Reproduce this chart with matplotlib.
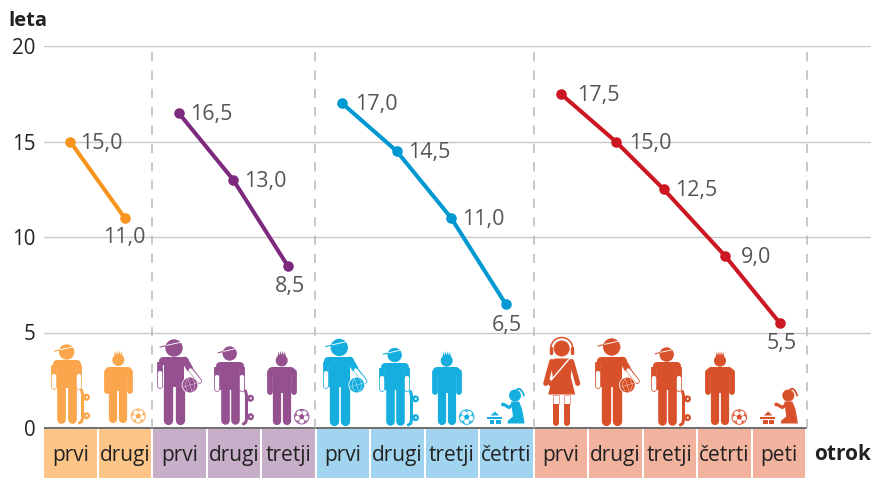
import numpy as np
import matplotlib
matplotlib.use("Agg")
import matplotlib.pyplot as plt
from matplotlib.patches import Circle, Polygon, Arc, Rectangle

plt.rcParams['font.family'] = ['Open Sans', 'DejaVu Sans']

# ---------- data ----------
categories = ["prvi", "drugi", "prvi", "drugi", "tretji", "prvi", "drugi", "tretji",
              "četrti", "prvi", "drugi", "tretji", "četrti", "peti"]
family1 = [15.0, 11.0]
family2 = [16.5, 13.0, 8.5]
family3 = [17.0, 14.5, 11.0, 6.5]
family4 = [17.5, 15.0, 12.5, 9.0, 5.5]
yticks = [0, 5, 10, 15, 20]

x1 = [-0.02, 0.98]
x2 = [1.97, 2.97, 3.97]
x3 = [4.97, 5.97, 6.97, 7.97]
x4 = [8.98, 9.99, 10.87, 12, 13]

W, H = 871, 478
DPI = 100
fig = plt.figure(figsize=(W / DPI, H / DPI), dpi=DPI, facecolor="white")

SLOT = 54.5
L = 44
Y0, Y20 = 428.0, 46.0
UNIT = (Y0 - Y20) / 20
ax = fig.add_axes([L / W, 0, (W - L) / W, (H - Y20) / H])
ax.set_xlim(-0.5, (W - L) / SLOT - 0.5)
ax.set_ylim(-(H - Y0) / UNIT, 20)
ax.patch.set_alpha(0)
for s in ax.spines.values():
    s.set_visible(False)
ax.tick_params(length=0)
ax.set_xticks([])
ax.set_yticks(yticks)
ax.set_yticklabels([str(v) for v in yticks], fontsize=14.8, color="#222222", va="center_baseline")
ax.tick_params(axis="y", pad=6)

GRID = "#C9C9C9"
for v in yticks[1:]:
    ax.axhline(v, color=GRID, lw=1.0, zorder=1)
ax.plot([-0.5, 13.5], [0, 0], color="#555555", lw=1.2, zorder=2, solid_capstyle="butt")
for b in [1.48, 4.48, 8.49, 13.5]:
    ax.plot([b, b], [0, 20], color="#BDBDBD", lw=1.2, dashes=(5.5, 5.5), zorder=2)

groups = [
    (x1, family1, "#F7941D", "#FDC588", [(10, 1.5), (0, 20)]),
    (x2, family2, "#7D2A7E", "#C8AFC9", [(11, 1.5), (11, 1.5), (2, 20.5)]),
    (x3, family3, "#0098D0", "#A1D4EE", [(13, 1.5), (11, 1.5), (11, 1.5), (1, 22)]),
    (x4, family4, "#CC1722", "#F1B29E", [(16, 1.5), (13, 1.5), (11, 1.5), (16, 1.5), (2, 21)]),
]
slot_i = 0
for xs, ys, col, box, offs in groups:
    ax.plot(xs, ys, color=col, lw=2.9, marker="o", ms=7.6, mew=0, zorder=4,
            solid_capstyle="round")
    n = len(xs)
    for k, (x, y, (dx, dy)) in enumerate(zip(xs, ys, offs)):
        lab = f"{y:.1f}".replace(".", ",")
        ha = "center" if k == n - 1 else "left"
        ax.annotate(lab, (x, y), xytext=(dx * 0.72, -dy * 0.72), textcoords="offset points",
                    ha=ha, va="center", fontsize=15.5, color="#555555", zorder=5)
    for _ in xs:
        ax.bar(slot_i - 0.5, (478 - 429) / UNIT, bottom=-(478 - Y0) / UNIT,
               width=0.97, align="edge", color=box, zorder=2, lw=0)
        ax.text(slot_i - 0.015, -(455.5 - Y0) / UNIT, categories[slot_i], ha="center", va="center",
                fontsize=15, color="#222222", zorder=3)
        slot_i += 1

# ---------- pictograms, in figure pixels ----------
ic = fig.add_axes([0, 0, 1, 1])
ic.set_xlim(0, W)
ic.set_ylim(H, 0)
ic.axis("off")
ic.patch.set_alpha(0)
PX = 72 / DPI


def line(xs, ys, w, c, cap="round", z=6):
    ic.plot(xs, ys, color=c, lw=w * PX, solid_capstyle=cap, solid_joinstyle="round", zorder=z)


def disc(x, y, r, c, z=6, ec=None, lw=0):
    ic.add_patch(Circle((x, y), r, fc=c, ec=ec if ec else "none", lw=lw * PX, zorder=z))


def poly(pts, c, z=6):
    ic.add_patch(Polygon(pts, closed=True, fc=c, ec="none", zorder=z))


def cap(cx, hy, r, c):
    r = r + 0.7
    disc(cx, hy, r, c)
    line([cx - r * 1.6, cx - r * 0.8], [hy - r * 0.1, hy - r * 0.3], 1.1, c, z=7)
    line([cx - r * 0.85, cx + r * 0.95], [hy - r * 0.3, hy - r * 0.7], 0.9, "white", z=7)


def hair(cx, hy, r, c):
    r = r + 0.5
    disc(cx, hy, r, c)
    for dx, tip in [(-3.0, -3.0), (-1.0, -3.6), (1.0, -3.6), (3.0, -3.0)]:
        poly([(cx + dx - 1.1, hy - r + 1.6), (cx + dx + 1.1, hy - r + 1.6),
              (cx + dx * 1.05, hy - r + tip)], c)


def body(cx, sh, foot, half, c, sleeves=(True, True), bent=False):
    h = foot - sh
    crotch = sh + h * 0.44
    hand = sh + h * 0.47
    sleeve = sh + h * 0.24
    aw = 5.8
    tw = half * 0.62
    ax_l, ax_r = cx - half + aw / 2, cx + half - aw / 2
    # rounded shoulders
    line([ax_l + 2.5, ax_r - 2.5], [sh + 4, sh + 4], 8, c)
    poly([(cx - tw, sh + 1), (cx + tw, sh + 1), (cx + tw, crotch), (cx - tw, crotch)], c)
    lw_ = tw - 0.9
    for sgn in (-1, 1):
        lx = cx + sgn * (tw - lw_ / 2)
        line([lx, lx], [crotch - 2, foot - lw_ / 2], lw_, c)
    # arms
    for i, ax_x in enumerate((ax_l, ax_r)):
        if i == 1 and bent:
            mx, my = cx + half - 1, sh + h * 0.17
            line([ax_r - 3, mx], [sh + 3.5, my], aw + 1, c)
            ex, ey = cx + half + 9, sh + h * 0.36
            line([mx, ex], [my, ey], aw * 0.9, c)
            line([mx + 1.0, ex], [my + 2.0, ey], aw * 0.9 - 1.5, "white", z=6.2)
            continue
        if sleeves[i]:
            line([ax_x, ax_x], [sh + 5, sleeve], aw, c, cap="butt")
            line([ax_x, ax_x], [sleeve, hand - 2.5], aw, c)
            line([ax_x, ax_x], [sleeve + 0.4, hand - 2.5], aw - 1.5, "white", z=6.2)
        else:
            line([ax_x, ax_x], [sh + 5, hand - 2.5], aw, c)


def board(x, y0, y1, c):
    ys = np.array([y0, y0 + 4, y1 - 5, y1 - 1.5, y1])
    xs = np.array([x, x + 1.0, x + 1.0, x + 0.2, x - 2.2])
    line(xs, ys, 3.0, c)
    for wy in (y0 + (y1 - y0) * 0.22, y0 + (y1 - y0) * 0.78):
        disc(x + 5, wy, 3.5, c, z=6)
        disc(x + 5.3, wy, 1.0, "white", z=6.2)
        line([x + 1.5, x + 3], [wy, wy], 2.5, c)


def football(x, y, r, c):
    disc(x, y, r, "white", ec=c, lw=0.9)
    ang = np.deg2rad(np.arange(0, 360, 72) - 90)
    poly(np.c_[x + 0.4 * r * np.cos(ang), y + 0.4 * r * np.sin(ang)], c, z=6.3)
    for a in ang:
        a2 = np.array([a - 0.4, a + 0.4])
        poly([(x + 0.98 * r * np.cos(a2[0]), y + 0.98 * r * np.sin(a2[0])),
              (x + 0.98 * r * np.cos(a2[1]), y + 0.98 * r * np.sin(a2[1])),
              (x + 0.66 * r * np.cos(a), y + 0.66 * r * np.sin(a))], c, z=6.3)
        line([x + 0.38 * r * np.cos(a), x + 0.7 * r * np.cos(a)],
             [y + 0.38 * r * np.sin(a), y + 0.7 * r * np.sin(a)], 0.5, c, z=6.3)


def basketball(x, y, r, c):
    disc(x, y, r + 0.8, "white", z=6.5)
    disc(x, y, r, c, z=6.6)
    wl = 0.35
    line([x - r, x + r], [y + 0.3 * r, y - 0.3 * r], wl, "white", z=6.7)
    line([x - 0.3 * r, x + 0.3 * r], [y - r, y + r], wl, "white", z=6.7)
    t = np.linspace(-1, 1, 20)
    line(x - 0.6 * r + 0.3 * r * t ** 2, y + t * r * 0.8, wl, "white", z=6.7)
    line(x + 0.65 * r - 0.3 * r * t ** 2, y + t * r * 0.8, wl, "white", z=6.7)


def big_ball(cx, hy, r, sh, foot, half, ball, c):
    cap(cx, hy, r, c)
    body(cx, sh, foot, half, c, sleeves=(True, False), bent=True)
    basketball(ball[0], ball[1], 7.5, c)


def toddler(hx, hy, c):
    disc(hx, hy, 6, c)
    t = np.linspace(0, 1, 14)
    line(hx + 2 + 7 * t, hy - 6 - 1.5 * np.sin(t * np.pi) + 6 * t ** 2, 1.8, c)
    poly([(hx - 4, hy + 6), (hx + 4, hy + 6), (hx + 7, hy + 13), (hx + 9, hy + 24),
          (hx + 9.5, hy + 28), (hx - 7.5, hy + 28), (hx - 7, hy + 25), (hx - 2, hy + 21),
          (hx - 3, hy + 14)], c)
    line([hx - 1, hx - 6, hx - 11], [hy + 8, hy + 12, hy + 9], 3.2, c)
    disc(hx - 12, hy + 9, 1.9, c)
    # blocks
    poly([(hx - 28, hy + 21), (hx - 13, hy + 21), (hx - 13, hy + 23.3), (hx - 28, hy + 23.3)], c)
    poly([(hx - 24.5, hy + 20), (hx - 20, hy + 16), (hx - 16, hy + 20)], c)
    ic.add_patch(Rectangle((hx - 25, hy + 24.3), 4.4, 3.7, fc=c, ec="none", zorder=6))
    ic.add_patch(Rectangle((hx - 19, hy + 24.3), 5, 3.7, fc=c, ec="none", zorder=6))


def girl(cx, hy, c):
    disc(cx, hy, 8, c)
    ic.add_patch(Arc((cx, hy), 22, 22, theta1=165, theta2=375, ec=c, lw=1.5 * PX, zorder=6))
    line([cx - 10.7, cx - 10.7], [hy - 1, hy + 4], 3.4, c)
    line([cx + 10.7, cx + 10.7], [hy - 1, hy + 4], 3.4, c)
    sh = hy + 10
    poly([(cx - 7, sh), (cx + 7, sh), (cx + 11, sh + 3), (cx + 9, sh + 18), (cx + 13.5, sh + 36),
          (cx - 13.5, sh + 36), (cx - 9, sh + 18), (cx - 11, sh + 3)], c)
    line([cx - 10, cx - 16], [sh + 3, sh + 25], 5, c)
    line([cx + 10, cx + 16], [sh + 3, sh + 25], 5, c)
    line([cx + 7, cx - 10], [sh + 1, sh + 21], 1.4, "white", z=6.3)
    poly([(cx - 13.5, sh + 20), (cx - 8, sh + 24), (cx - 10, sh + 29), (cx - 15, sh + 25)], c, z=6.4)
    for sgn in (-1, 1):
        lx = cx + sgn * 5.5
        ic.add_patch(Rectangle((lx - 3, sh + 36), 6, 9, fc="white", ec=c, lw=0.5 * PX, zorder=6))
        ic.add_patch(Rectangle((lx - 3, sh + 45), 6, 19, fc=c, ec="none", zorder=6))
        line([lx, lx], [sh + 60, sh + 64.5], 6, c)


ORANGE, PURPLE, BLUE, RED = "#FBA64C", "#95508F", "#16AEDF", "#D9512A"

# orange family
cap(66.7, 352, 7, ORANGE)
body(66.7, 360, 423, 15.5, ORANGE)
board(81.5, 390, 423, ORANGE)
hair(118.3, 360, 5.5, ORANGE)
body(118.3, 366.5, 423, 14.7, ORANGE, sleeves=(False, False))
football(138.3, 416, 7, ORANGE)
# purple family
big_ball(174, 348, 8, 356.5, 425, 16.5, (190, 385), PURPLE)
cap(229.7, 353.5, 6.5, PURPLE)
body(229.7, 362, 424.5, 15.3, PURPLE)
board(245.5, 391, 424, PURPLE)
hair(281.7, 360.5, 5.5, PURPLE)
body(281.7, 367, 425, 14.7, PURPLE, sleeves=(False, False))
football(301.7, 416.7, 7.3, PURPLE)
# blue family
big_ball(339.3, 347.5, 8, 356.5, 425.5, 16.5, (356.7, 385), BLUE)
cap(394.7, 355, 6.5, BLUE)
body(394.7, 362.5, 425, 15.3, BLUE)
board(410.5, 391.5, 425, BLUE)
hair(446.7, 360.7, 5.5, BLUE)
body(446.7, 367.3, 425, 14.7, BLUE, sleeves=(False, False))
football(466.7, 417, 7.3, BLUE)
toddler(515, 395.5, BLUE)
# red family
girl(561.7, 348.5, RED)
big_ball(611.7, 347, 8, 356.5, 425.5, 16.5, (627.3, 385), RED)
cap(666.7, 354.5, 6.5, RED)
body(666.7, 362.3, 425, 15.3, RED)
board(682.5, 391.5, 425, RED)
hair(720, 360.7, 5.5, RED)
body(720, 367.3, 425, 14.7, RED, sleeves=(False, False))
football(739.3, 417, 7.3, RED)
toddler(788.3, 395.5, RED)

# axis titles
fig.text(8 / W, 1 - 21 / H, "leta", fontsize=14.5, fontweight="bold", color="#222222", ha="left", va="center")
fig.text(814 / W, 1 - 454 / H, "otrok", fontsize=15, fontweight="bold", color="#222222", ha="left", va="center")

fig.savefig("out.png", dpi=DPI, facecolor="white")
